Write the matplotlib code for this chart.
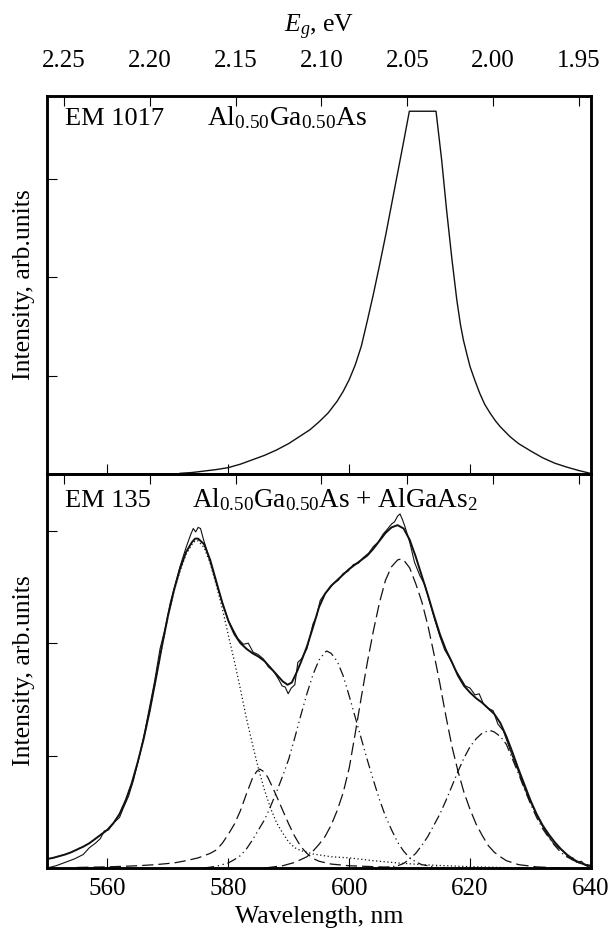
import matplotlib.pyplot as plt

plt.rcParams['font.family'] = ['Liberation Serif', 'DejaVu Serif']
plt.rcParams['mathtext.fontset'] = 'custom'
plt.rcParams['mathtext.rm'] = 'Liberation Serif'
plt.rcParams['mathtext.it'] = 'Liberation Serif:italic'

# ---- top panel: EM 1017 (saturated peak)
top_wl = [572.0, 574, 576, 578, 580, 582, 584, 586, 588, 590, 592, 593.5, 595,
          596.5, 598, 599, 600, 601, 602, 603, 604, 605, 606, 607, 608, 609.0,
          609.95, 614.36, 615.3, 616.1, 617.0, 617.8, 618.4, 618.9, 619.5, 620.0,
          620.8, 621.6, 622.4, 623.3, 624.2, 625.0, 626.6, 628, 630, 632, 634, 636,
          638, 640]
top_int = [0.007, 0.015, 0.03, 0.045, 0.065, 0.10, 0.145, 0.19, 0.245, 0.31, 0.39,
           0.45, 0.53, 0.62, 0.74, 0.84, 0.96, 1.11, 1.30, 1.56, 1.83, 2.12, 2.42,
           2.74, 3.06, 3.38, 3.69, 3.69, 3.19, 2.69, 2.18, 1.77, 1.52, 1.36, 1.21,
           1.09, 0.95, 0.82, 0.71, 0.62, 0.54, 0.48, 0.38, 0.31, 0.235, 0.165, 0.11,
           0.07, 0.035, 0.005]

# ---- bottom panel: EM 135, measured spectrum
meas_wl = [550, 551.5, 553, 554.5, 556, 557, 558, 558.8, 559.5, 560.2, 561, 562,
           562.6, 563.5, 564.3, 565.4, 566.2, 567, 567.8, 568.7, 569.5, 570.4,
           571.2, 572, 573, 573.8, 574.2, 574.6, 575.0, 575.4, 575.9, 576.7, 577.5,
           578.3, 579.2, 580, 580.8, 581.6, 582.5, 583.3, 584.1, 584.9, 585.8,
           586.6, 587.5, 588.3, 588.9, 589.4, 589.9, 590.4, 591.0, 591.5, 592.1,
           593, 594.0, 594.6, 595.2, 595.7, 596.5, 597.4, 598.2, 599, 599.8,
           600.7, 601.5, 602.3, 603.2, 604, 604.8, 605.6, 606.4, 607, 607.5,
           608.0, 608.4, 608.8, 609.2, 610, 610.8, 611.7, 612.5, 613.4, 614.2,
           615, 615.8, 616.7, 617.5, 618.3, 619.2, 620, 620.8, 621.5, 622.2,
           623.0, 623.8, 624.6, 625.5, 626.3, 627.1, 628, 628.8, 629.6, 630.5,
           631.3, 632.1, 633, 633.8, 634.6, 635.4, 636.2, 637, 637.6, 638.4,
           639.2, 640]
meas_int = [0.0, 0.02, 0.05, 0.08, 0.12, 0.18, 0.22, 0.26, 0.33, 0.34, 0.40, 0.45,
            0.53, 0.64, 0.78, 1.02, 1.22, 1.44, 1.66, 1.95, 2.12, 2.36,
            2.52, 2.68, 2.85, 2.97, 3.02, 2.99, 3.03, 3.02, 2.92, 2.78, 2.63,
            2.48, 2.33, 2.20, 2.12, 2.04, 1.99, 2.00, 1.92, 1.90, 1.86,
            1.79, 1.75, 1.68, 1.62, 1.61, 1.55, 1.60, 1.63, 1.83, 1.86,
            1.95, 2.17, 2.24, 2.38, 2.42, 2.47, 2.53, 2.56, 2.62, 2.64,
            2.70, 2.71, 2.76, 2.80, 2.86, 2.90, 2.97, 3.02, 3.06, 3.08,
            3.13, 3.15, 3.10, 3.04, 2.90, 2.72, 2.60, 2.52, 2.35, 2.20,
            2.06, 1.94, 1.86, 1.77, 1.70, 1.62, 1.60, 1.54, 1.55, 1.46,
            1.42, 1.40, 1.28, 1.22, 1.10, 0.98, 0.86, 0.74, 0.63, 0.53,
            0.44, 0.36, 0.28, 0.22, 0.18, 0.15, 0.10, 0.09, 0.05, 0.06,
            0.02, 0.0]

# fitted envelope
fit_wl = [550, 551, 552, 553, 554, 555, 556, 557, 558, 559, 560, 561, 562, 563,
          564, 565, 566, 567, 568, 569, 570, 571, 572, 573, 574, 574.5, 575, 576,
          577, 578, 579, 580, 581, 582, 583, 584, 585, 586, 587, 588, 589, 589.8,
          590.5, 591.3, 592, 593, 594, 595, 596, 597, 598, 599, 600, 601, 602, 603,
          604, 605, 606, 607, 608, 609, 610, 611, 612, 613, 614, 615, 616, 617, 618,
          619, 620, 621, 622, 623, 624, 625, 626, 627, 628, 629, 630, 631, 632, 633,
          634, 635, 636, 637, 638, 639, 640]
fit_int = [0.08, 0.09, 0.105, 0.12, 0.14, 0.165, 0.19, 0.22, 0.26, 0.30, 0.34, 0.40,
           0.48, 0.60, 0.75, 0.94, 1.15, 1.40, 1.68, 1.97, 2.24, 2.47, 2.66, 2.81,
           2.90, 2.93, 2.93, 2.88, 2.74, 2.55, 2.36, 2.20, 2.08, 2.00, 1.95, 1.91,
           1.88, 1.84, 1.78, 1.72, 1.66, 1.63, 1.65, 1.74, 1.83, 1.97, 2.14, 2.32,
           2.44, 2.51, 2.56, 2.61, 2.66, 2.70, 2.74, 2.78, 2.84, 2.91, 2.98, 3.03,
           3.05, 3.02, 2.92, 2.77, 2.60, 2.43, 2.25, 2.08, 1.94, 1.83, 1.71, 1.62,
           1.56, 1.51, 1.47, 1.42, 1.37, 1.29, 1.17, 1.03, 0.88, 0.74, 0.60, 0.48,
           0.38, 0.30, 0.23, 0.17, 0.12, 0.08, 0.05, 0.03, 0.02]

# component 1 (dotted, ~574.5 nm)
c1_wl = [550, 551, 552, 553, 554, 555, 556, 557, 558, 559, 560, 561, 562, 563,
         564, 565, 566, 567, 568, 569, 570, 571, 572, 573, 574, 574.5, 575, 576,
         577, 578, 579, 580, 581, 582, 583, 584, 585, 586, 587, 588, 589, 590, 591,
         592, 594, 597, 600, 604, 608, 612, 616, 620, 625, 630]
c1_int = [0.08, 0.09, 0.105, 0.12, 0.14, 0.165, 0.19, 0.22, 0.26, 0.30, 0.34, 0.40,
          0.48, 0.60, 0.75, 0.94, 1.15, 1.40, 1.68, 1.96, 2.23, 2.46, 2.64, 2.79,
          2.88, 2.91, 2.91, 2.85, 2.71, 2.52, 2.31, 2.07, 1.84, 1.59, 1.33, 1.10,
          0.88, 0.69, 0.53, 0.40, 0.31, 0.23, 0.18, 0.155, 0.125, 0.10, 0.09, 0.065,
          0.045, 0.03, 0.02, 0.012, 0.005, 0.0]

# component 2 (dashed, ~585 nm)
c2_wl = [555, 560, 565, 568, 571, 573, 575, 576, 577, 578, 579, 580, 581, 582, 583,
         584, 584.7, 585.2, 585.8, 586.5, 587.3, 588.3, 589.1, 590, 591, 592, 593,
         594, 595, 597, 600, 605, 610]
c2_int = [0.005, 0.01, 0.02, 0.03, 0.045, 0.065, 0.09, 0.11, 0.13, 0.16, 0.22, 0.30,
          0.39, 0.51, 0.66, 0.80, 0.86, 0.88, 0.86, 0.81, 0.72, 0.60, 0.50, 0.39,
          0.28, 0.19, 0.13, 0.085, 0.06, 0.035, 0.02, 0.01, 0.0]

# component 3 (dash-dot-dot, ~596 nm)
c3_wl = [576, 578, 580, 581, 582, 583, 584, 585, 586, 587, 588, 589, 590, 591, 592,
         593, 594, 595, 596, 596.3, 597, 598, 599, 600, 601, 602, 603, 604, 605,
         606, 607, 608, 609, 610, 611, 612, 614, 616]
c3_int = [0.0, 0.015, 0.045, 0.075, 0.11, 0.17, 0.25, 0.34, 0.43, 0.55, 0.68, 0.82,
          0.97, 1.16, 1.36, 1.55, 1.72, 1.85, 1.92, 1.93, 1.91, 1.84, 1.71, 1.53,
          1.34, 1.15, 0.96, 0.78, 0.61, 0.46, 0.34, 0.23, 0.15, 0.09, 0.055, 0.03,
          0.01, 0.0]

# component 4 (dashed, ~608.6 nm)
c4_wl = [586, 589, 591, 593, 594, 595, 596, 597, 598, 599, 600, 601, 602, 603, 604,
         605, 606, 607, 608, 608.6, 609, 610, 611, 612, 613, 614, 615, 616, 617, 618,
         619, 620, 621, 622, 623, 624, 625, 626, 628, 631, 635]
c4_int = [0.0, 0.02, 0.05, 0.10, 0.15, 0.21, 0.28, 0.38, 0.51, 0.67, 0.89, 1.20,
          1.52, 1.83, 2.11, 2.36, 2.56, 2.68, 2.74, 2.75, 2.74, 2.67, 2.53, 2.37,
          2.16, 1.91, 1.64, 1.35, 1.08, 0.86, 0.67, 0.52, 0.39, 0.29, 0.20, 0.14,
          0.10, 0.065, 0.03, 0.01, 0.0]

# component 5 (dash-dot, ~623 nm)
c5_wl = [605, 607, 608, 609, 610, 611, 612, 613, 614, 615, 616, 617, 618, 619, 620,
         621, 622, 623, 623.5, 624, 625, 626, 627, 628, 629, 630, 631, 632, 633, 634,
         635, 636, 637, 638, 639, 640]
c5_int = [0.0, 0.01, 0.02, 0.04, 0.08, 0.13, 0.20, 0.28, 0.38, 0.48, 0.60, 0.73,
          0.86, 0.98, 1.08, 1.15, 1.20, 1.22, 1.22, 1.21, 1.17, 1.10, 0.97, 0.84,
          0.70, 0.57, 0.45, 0.35, 0.27, 0.20, 0.14, 0.10, 0.07, 0.045, 0.03, 0.015]

wl_ticks = [560, 580, 600, 620, 640]
ev_ticks = [2.25, 2.20, 2.15, 2.10, 2.05, 2.00, 1.95]
ev_labels = ['2.25', '2.20', '2.15', '2.10', '2.05', '2.00', '1.95']

W, H = 613, 936
fig = plt.figure(figsize=(W / 100, H / 100), dpi=100)
ax1 = fig.add_axes([47 / W, 1 - 474 / H, 544 / W, 378 / H])
ax2 = fig.add_axes([47 / W, 1 - 868 / H, 544 / W, 394 / H])

fs = 18.5
tick_kw = dict(direction='in', length=7, width=0.8, labelsize=18)

for ax in (ax1, ax2):
    ax.set_xlim(550, 640)
    ax.set_xticks(wl_ticks)
    ax.set_yticks([1, 2, 3])
    ax.tick_params(axis='both', which='both', top=False, right=False, **tick_kw)
    ax.tick_params(axis='y', labelleft=False)
    for s in ax.spines.values():
        s.set_linewidth(1.8)
    ax.set_ylabel('Intensity, arb.units', fontsize=fs)
    ax.yaxis.set_label_coords(-0.022, 0.5)
    axt = ax.twiny()
    axt.set_xlim(2.2599, 1.943)
    axt.set_xticks(ev_ticks)
    axt.tick_params(axis='x', **tick_kw)
    for s in axt.spines.values():
        s.set_linewidth(1.8)
    if ax is ax1:
        axt.set_xticklabels(ev_labels)
        axt.tick_params(axis='x', pad=17)
    else:
        axt.set_xticklabels([])

ax1.set_ylim(0, 3.845)
ax1.tick_params(axis='x', labelbottom=False)
ax2.set_ylim(0, 3.505)
ax2.tick_params(axis='x', pad=7)

ax1.plot(top_wl, top_int, color='#111111', lw=1.0)

ax2.plot(meas_wl, meas_int, color='#111111', lw=0.8)
ax2.plot(fit_wl, fit_int, color='#111111', lw=1.4)
ax2.plot(c1_wl, c1_int, color='#111111', lw=0.9, ls=(0, (1, 2)))
ax2.plot(c2_wl, c2_int, color='#111111', lw=0.9, ls=(0, (9, 4)))
ax2.plot(c3_wl, c3_int, color='#111111', lw=0.9, ls=(0, (8, 3, 1, 3, 1, 3)))
ax2.plot(c4_wl, c4_int, color='#111111', lw=0.9, ls=(0, (10, 4)))
ax2.plot(c5_wl, c5_int, color='#111111', lw=0.9, ls=(0, (8, 3, 1, 3)))

ax1.text(0.033, 0.923, 'EM 1017', transform=ax1.transAxes, fontsize=19)
ax1.text(0.294, 0.923, r'Al$_{0.50}$Ga$_{0.50}$As', transform=ax1.transAxes,
         fontsize=19.8)
ax2.text(0.033, 0.916, 'EM 135', transform=ax2.transAxes, fontsize=19)
ax2.text(0.266, 0.916, r'Al$_{0.50}$Ga$_{0.50}$As + AlGaAs$_2$',
         transform=ax2.transAxes, fontsize=19.5)

fig.text(319 / W, 1 - 32 / H, r'$E_g$, eV', ha='center', va='baseline', fontsize=fs)
fig.text(319 / W, 1 - 923 / H, 'Wavelength, nm', ha='center', va='baseline', fontsize=fs)

fig.savefig('out.png', dpi=100)
